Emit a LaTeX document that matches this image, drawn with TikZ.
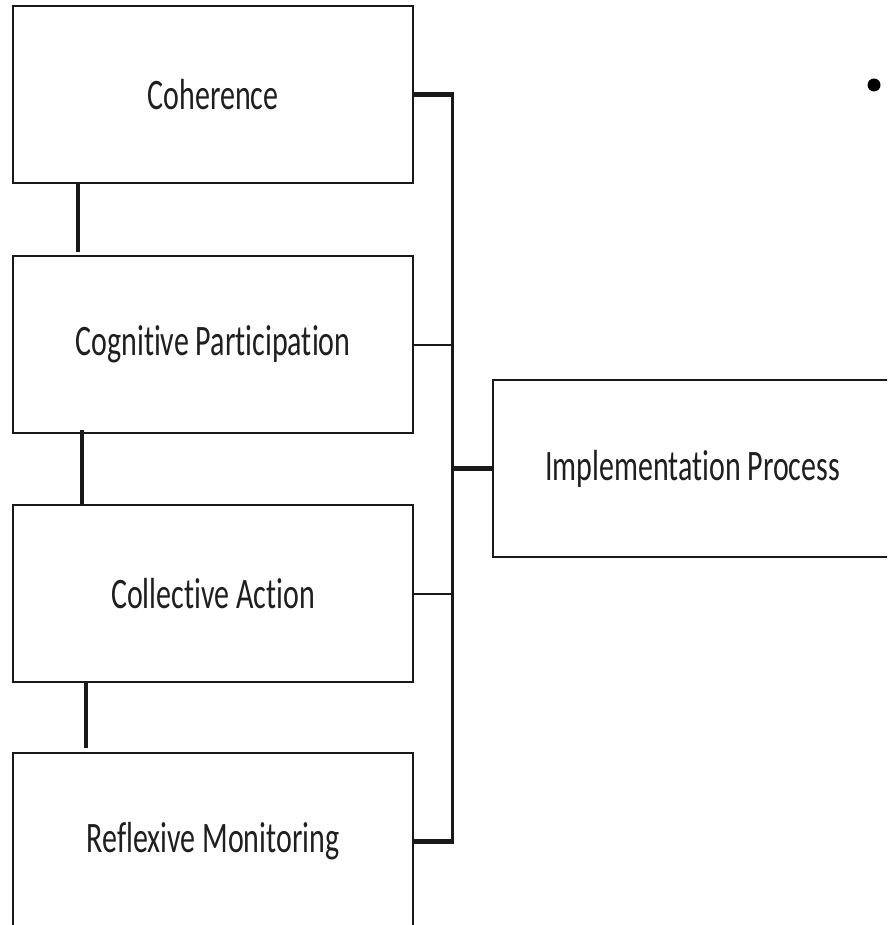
\documentclass[tikz,border=0pt]{standalone}
\usepackage{fontspec}
\setmainfont{Carlito}[Ligatures={NoCommon,NoContextual}]
\usepackage{graphicx}
\begin{document}
\begin{tikzpicture}[x=1pt,y=-1pt,
  box/.style={draw=black!90, line width=2pt, fill=white, minimum width=400pt, minimum height=177pt, inner sep=0pt, anchor=north west, text=black!88, font=\fontsize{30}{36}\selectfont},
  thinc/.style={draw=black!90, line width=2pt},
  medc/.style={draw=black!90, line width=3pt},
  thickc/.style={draw=black!90, line width=4.6pt}
]
\useasboundingbox (0,0) rectangle (887,925);
\clip (0,0) rectangle (887,925);
\fill[white] (0,0) rectangle (887,925);
\node[box] (coh) at (12,5) {\scalebox{1}[1.45]{Coherence}};
\node[box] (cog) at (12,255) {\scalebox{1}[1.45]{Cognitive Participation}};
\node[box] (col) at (12,504) {\scalebox{1}[1.45]{Collective Action}};
\node[box] (ref) at (12,752) {\scalebox{1}[1.45]{Reflexive Monitoring}};
\node[box, minimum width=399pt] (imp) at (492,379) {\scalebox{1}[1.45]{Implementation Process}};
\node[circle, fill=black, inner sep=0pt, minimum size=13pt] (dot) at (874,85) {};
\coordinate (bx) at (452,0);
\coordinate (v1) at (78,0);
\coordinate (v2) at (82,0);
\coordinate (v3) at (86,0);
% vertical links between stacked boxes
\draw[thickc] (v1 |- coh.south) -- ([yshift=3pt]v1 |- cog.north);
\draw[thickc] ([yshift=4pt]v2 |- cog.south) -- (v2 |- col.north);
\draw[thickc] (v3 |- col.south) -- ([yshift=4pt]v3 |- ref.north);
% bracket to implementation process
\draw[medc] (coh.east -| bx) -- (ref.east -| bx);
\draw[thickc] (coh.east) -- ([xshift=1.5pt]coh.east -| bx);
\draw[thinc] (cog.east) -- (cog.east -| bx);
\draw[thinc] (col.east) -- (col.east -| bx);
\draw[thickc] (ref.east) -- ([xshift=1.5pt]ref.east -| bx);
\draw[thickc] (imp.west -| bx) -- (imp.west);
\end{tikzpicture}
\end{document}
